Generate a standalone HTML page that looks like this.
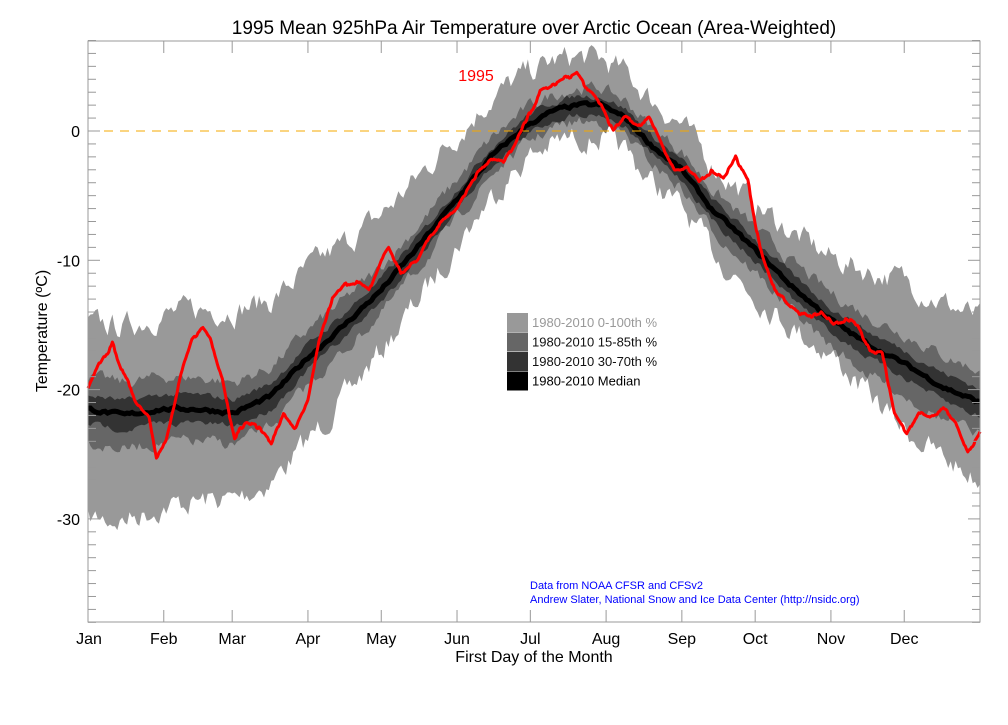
<!DOCTYPE html>
<html><head><meta charset="utf-8"><style>
body{margin:0;background:#fff;width:1008px;height:720px;overflow:hidden;font-family:"Liberation Sans",sans-serif}
</style></head><body>
<svg id="s" width="1008" height="720" xmlns="http://www.w3.org/2000/svg" font-family="Liberation Sans, sans-serif"></svg>
<script>
const L=88,R=980,T=41,B=622;
const X=d=>L+d*(R-L)/365, Y=t=>131-t*12.93;
function interp(pts,d){for(let i=0;i<pts.length-1;i++){if(d<=pts[i+1][0]){const a=pts[i],b=pts[i+1],f=(d-a[0])/(b[0]-a[0]);return a[1]+f*(b[1]-a[1]);}}return pts[pts.length-1][1];}
const med=[[0,-21.5],[15,-22],[30,-21.5],[45,-21.5],[60,-21.8],[75,-20.5],[90,-17.5],[105,-15],[120,-12.3],[135,-9],[150,-5.5],[165,-2],[180,0.5],[190,1.5],[200,2],[210,2],[220,1],[230,-1],[243,-3],[255,-6],[273,-9.2],[288,-12],[304,-14.6],[319,-16.5],[334,-18],[350,-19.8],[365,-21]];
const red=[[0,-20],[5,-18],[10,-16.5],[15,-19],[20,-21],[25,-22],[28,-25],[32,-24],[38,-19],[43,-16],[47,-15.2],[50,-16],[55,-19],[58,-22],[60,-23.5],[65,-22.5],[70,-23],[75,-24],[80,-22],[85,-23],[90,-21],[95,-16],[100,-13],[105,-12],[110,-11.5],[115,-12.5],[120,-10],[123,-9],[128,-11],[135,-10],[140,-8],[150,-6],[160,-3],[165,-2],[170,-2.5],[175,-1],[180,1],[185,3],[190,3.5],[195,4],[200,4.5],[205,3],[210,2],[215,0],[220,1],[225,0.5],[230,1],[235,-1],[240,-3],[245,-3],[250,-4],[255,-3],[260,-3.5],[265,-2],[270,-4],[275,-9],[280,-12],[285,-13],[290,-14],[295,-14.5],[300,-14],[305,-15],[310,-14.5],[315,-15],[320,-17],[325,-17],[330,-22],[335,-23.5],[340,-21.5],[345,-22],[350,-21.5],[355,-22.5],[360,-25],[365,-23.5]];
const upO=[[0,6.5],[59,8],[90,6.8],[120,5.8],[151,5],[181,4],[212,3.5],[243,3.5],[273,3.5],[304,4.8],[334,6.5],[365,6.5]];
const dnO=[[0,8.5],[59,6.7],[90,6.5],[120,4.7],[151,3.5],[181,2.5],[212,2.5],[243,3],[273,3.5],[304,2.7],[334,5],[365,6]];
let seed=7;const rnd=()=>{seed=(seed*16807)%2147483647;return seed/2147483647-0.5;};
function wobble(){let a=[],v=0;for(let d=0;d<=365;d++){v=v*0.6+rnd()*1.6;a.push(v);}return a;}
const w1=wobble(),w2=wobble(),w3=wobble(),w4=wobble(),w5=wobble(),w6=wobble();
function width(d,win,sum){const c=Math.cos((d-200)/365*2*Math.PI);return sum+(win-sum)*(1-c)/2;}
function band(lo,hi,col){let up=[],dn=[];for(let d=0;d<=365;d++){const m=interp(med,d);up.push(X(d).toFixed(1)+','+Y(m+hi(d)).toFixed(1));dn.unshift(X(d).toFixed(1)+','+Y(m-lo(d)).toFixed(1));}return `<polygon points="${up.join(' ')} ${dn.join(' ')}" fill="${col}"/>`;}
let h='';
h+=band(d=>interp(dnO,d)+w1[d]*1.0,d=>interp(upO,d)+w2[d]*1.0,'#999');
h+=band(d=>width(d,2.6,1.3)+w3[d]*0.5,d=>width(d,2.5,1.3)+w4[d]*0.5,'#666');
h+=band(d=>width(d,1.1,0.7)+w5[d]*0.25,d=>width(d,1.1,0.7)+w6[d]*0.25,'#333');
let mp=[];for(let d=0;d<=365;d++)mp.push(X(d).toFixed(1)+','+Y(interp(med,d)+w5[d]*0.15).toFixed(1));
h+=`<polyline points="${mp.join(' ')}" fill="none" stroke="#000" stroke-width="5"/>`;
h+=`<line x1="${L}" x2="${R}" y1="131" y2="131" stroke="#f5a800" stroke-width="1" stroke-dasharray="9,7"/>`;
let rp=[];for(let d=0;d<=365;d+=0.5)rp.push(X(d).toFixed(1)+','+Y(interp(red,d)+w2[Math.floor(d)]*0.2).toFixed(1));
h+=`<polyline points="${rp.join(' ')}" fill="none" stroke="#f00" stroke-width="3" stroke-linejoin="round"/>`;
h+=`<rect x="${L}" y="${T}" width="${R-L}" height="${B-T}" fill="none" stroke="#999" stroke-width="1"/>`;
for(let t=7;t>=-38;t--){const y=Y(t);if(y<T-1||y>B+1)continue;const len=(t%10==0)?12:8;
h+=`<line x1="${L}" x2="${L+len}" y1="${y}" y2="${y}" stroke="#999"/><line x1="${R-len}" x2="${R}" y1="${y}" y2="${y}" stroke="#999"/>`;
if(t%10==0&&t>-35)h+=`<text x="${L-8}" y="${y+6}" font-size="16" text-anchor="end">${t}</text>`;}
const mon=['Jan','Feb','Mar','Apr','May','Jun','Jul','Aug','Sep','Oct','Nov','Dec'],md=[0,31,59,90,120,151,181,212,243,273,304,334];
md.forEach((d,i)=>{const x=X(d);h+=`<line x1="${x}" x2="${x}" y1="${B}" y2="${B-12}" stroke="#999"/><line x1="${x}" x2="${x}" y1="${T}" y2="${T+12}" stroke="#999"/>`;
h+=`<text x="${x+(i==0?1:0)}" y="${B+22}" font-size="16" text-anchor="middle">${mon[i]}</text>`;});
h+=`<text x="534" y="34" font-size="19" text-anchor="middle">1995 Mean 925hPa Air Temperature over Arctic Ocean (Area-Weighted)</text>`;
h+=`<text x="534" y="662" font-size="16" text-anchor="middle">First Day of the Month</text>`;
h+=`<text transform="translate(47,331) rotate(-90)" font-size="16" text-anchor="middle">Temperature (ºC)</text>`;
h+=`<text x="476" y="81" font-size="16" fill="#f00" text-anchor="middle">1995</text>`;
const lg=[['#999','1980-2010 0-100th %','#999'],['#666','1980-2010 15-85th %','#111'],['#333','1980-2010 30-70th %','#111'],['#000','1980-2010 Median','#000']];
lg.forEach((g,i)=>{const y=313+i*19.5;h+=`<rect x="507" y="${y}" width="21" height="19" fill="${g[0]}"/><text x="532" y="${y+14}" font-size="13" fill="${g[2]}">${g[1]}</text>`;});
h+=`<text x="530" y="589" font-size="11" fill="#00f">Data from NOAA CFSR and CFSv2</text>`;
h+=`<text x="530" y="603" font-size="11" fill="#00f">Andrew Slater, National Snow and Ice Data Center (http://nsidc.org)</text>`;
document.getElementById('s').innerHTML=h;
</script>
</body></html>
